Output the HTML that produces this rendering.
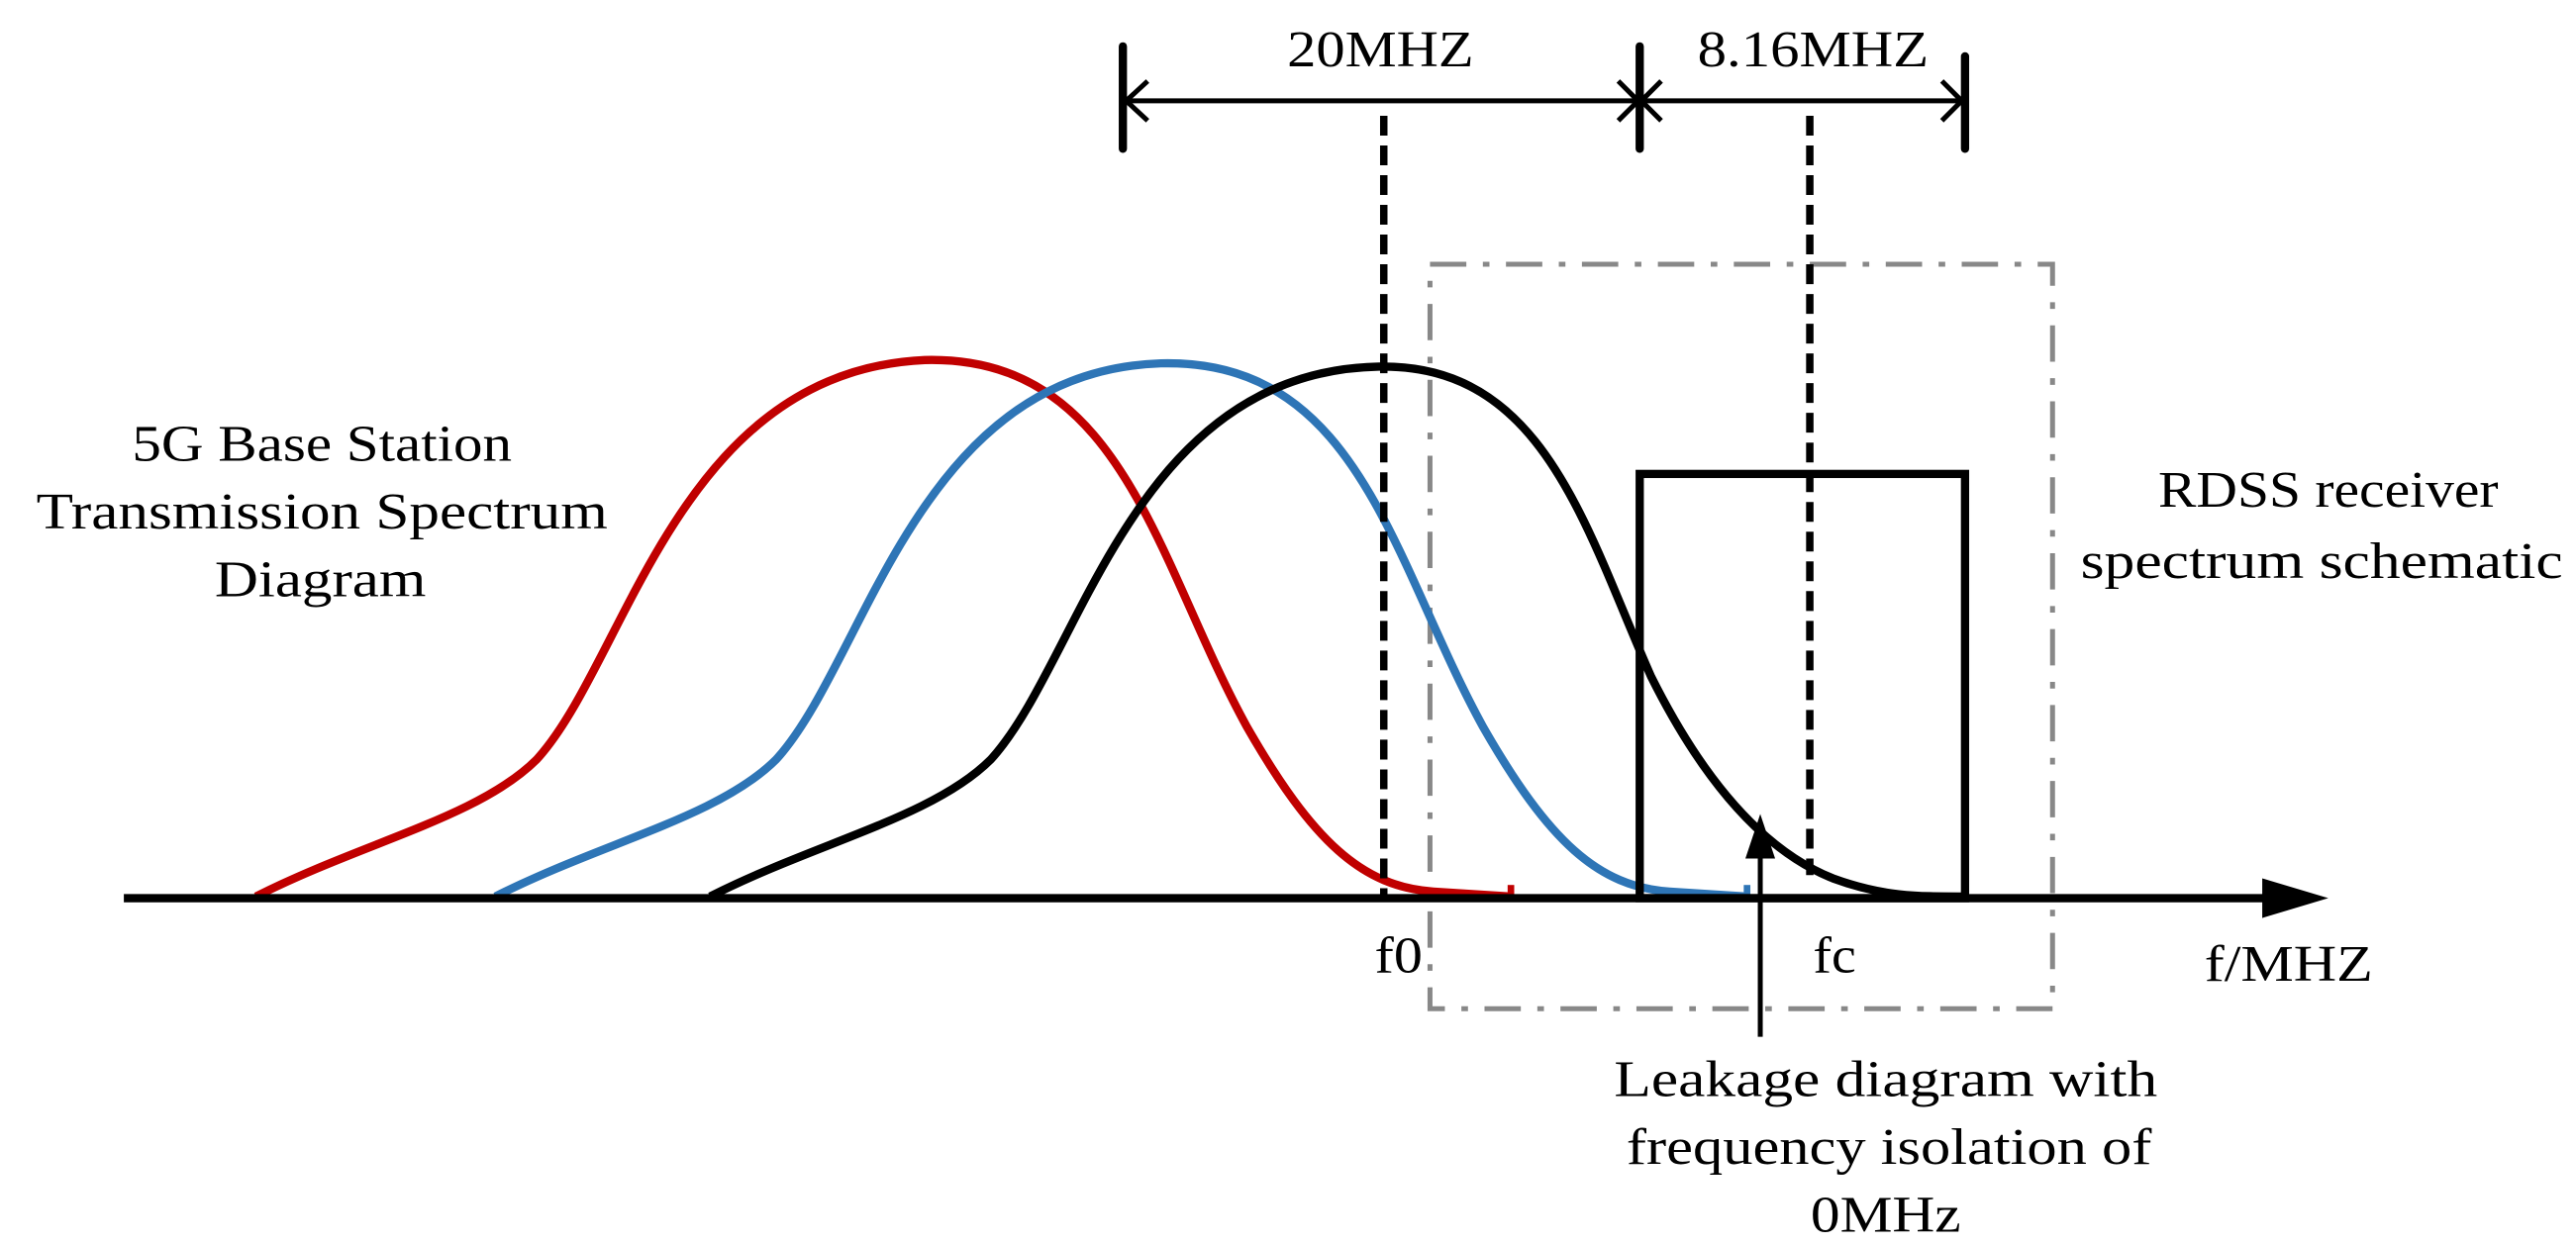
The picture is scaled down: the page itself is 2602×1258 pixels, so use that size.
<!DOCTYPE html>
<html><head><meta charset="utf-8"><style>html,body{margin:0;padding:0;background:#fff}svg{display:block}</style></head>
<body>
<svg width="2602" height="1258" viewBox="0 0 1560 754" xmlns="http://www.w3.org/2000/svg" font-family="'Liberation Serif', serif" font-size="31" fill="none">
<rect x="866" y="160" width="377" height="451" stroke="#888" stroke-width="3" stroke-dasharray="22,10,4,10"/>
<path d="M155,543 C220,510 290,495 325,460 C380,400 410,225 560,218 C680,215 700,340 755,440 C795,510 825,537 868,540 L915,543" stroke="#c00000" stroke-width="5"/>
<path d="M915,536 L915,546" stroke="#c00000" stroke-width="4"/>
<path d="M300,543 C365,510 435,495 470,460 C525,400 555,225 703,220 C823,217 843,340 898,440 C938,510 968,537 1011,540 L1058,543" stroke="#2e75b6" stroke-width="5"/>
<path d="M1058,536 L1058,546" stroke="#2e75b6" stroke-width="4"/>
<path d="M430,543 C495,510 565,495 600,460 C655,400 685,225 835,222 C935,220 960,320 1000,410 C1040,490 1080,520 1110,532 C1140,543 1160,543 1190,543" stroke="#000" stroke-width="5"/>
<rect x="993" y="287" width="197" height="257" stroke="#000" stroke-width="5"/>
<line x1="75" y1="544" x2="1372" y2="544" stroke="#000" stroke-width="5"/>
<path d="M1370,532 L1410,544 L1370,556 Z" fill="#000"/>
<line x1="838" y1="70" x2="838" y2="544" stroke="#000" stroke-width="4.5" stroke-dasharray="12,6"/>
<line x1="1096" y1="70" x2="1096" y2="530" stroke="#000" stroke-width="4.5" stroke-dasharray="12,6"/>
<g stroke="#000" stroke-width="5" stroke-linecap="round"><line x1="680" y1="28" x2="680" y2="90"/><line x1="993" y1="28" x2="993" y2="90"/><line x1="1190" y1="34" x2="1190" y2="90"/></g>
<g stroke="#000" stroke-width="3"><line x1="680" y1="61" x2="1190" y2="61"/>
<path d="M695,49 L682,61 L695,73"/><path d="M980,49 L992,61 L980,73"/><path d="M1006,49 L994,61 L1006,73"/><path d="M1176,49 L1188,61 L1176,73"/></g>
<line x1="1066" y1="628" x2="1066" y2="515" stroke="#000" stroke-width="3"/>
<path d="M1057,520 L1066,493 L1075,520 Z" fill="#000"/>
<g fill="#000" text-anchor="middle" lengthAdjust="spacingAndGlyphs">
<text x="836" y="40" textLength="113" lengthAdjust="spacingAndGlyphs">20MHZ</text><text x="1098" y="40" textLength="140" lengthAdjust="spacingAndGlyphs">8.16MHZ</text>
<text x="195" y="279" textLength="230" lengthAdjust="spacingAndGlyphs">5G Base Station</text><text x="195" y="320" textLength="346" lengthAdjust="spacingAndGlyphs">Transmission Spectrum</text><text x="194" y="361" textLength="128" lengthAdjust="spacingAndGlyphs">Diagram</text>
<text x="1410" y="307" textLength="206" lengthAdjust="spacingAndGlyphs">RDSS receiver</text><text x="1406" y="350" textLength="292" lengthAdjust="spacingAndGlyphs">spectrum schematic</text>
<text x="847" y="589" textLength="29" lengthAdjust="spacingAndGlyphs">f0</text><text x="1111" y="589" textLength="26" lengthAdjust="spacingAndGlyphs">fc</text><text x="1386" y="594" textLength="102" lengthAdjust="spacingAndGlyphs">f/MHZ</text>
<text x="1142" y="664" textLength="329" lengthAdjust="spacingAndGlyphs">Leakage diagram with</text><text x="1144" y="705" textLength="318" lengthAdjust="spacingAndGlyphs">frequency isolation of</text><text x="1142" y="746" textLength="91" lengthAdjust="spacingAndGlyphs">0MHz</text>
</g>
</svg>
</body></html>
